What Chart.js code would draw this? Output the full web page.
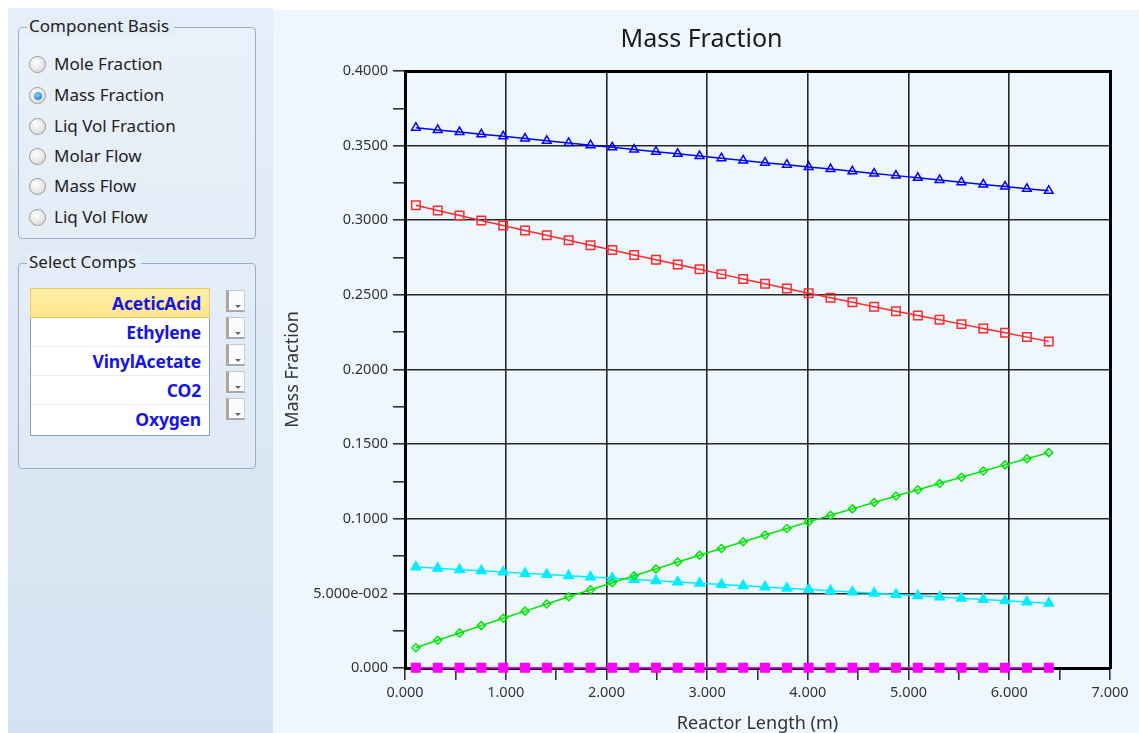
<!DOCTYPE html>
<html>
<head>
<meta charset="utf-8">
<script src="https://cdn.jsdelivr.net/npm/chart.js@4.4.1/dist/chart.umd.min.js"></script>
<style>
  body { margin: 0; width: 1139px; height: 733px; overflow: hidden; background: #fff; font-family: "Noto Sans", sans-serif; position: relative; }
  #side { position: absolute; left: 8px; top: 8px; width: 265px; height: 725px; background: linear-gradient(#e6eff9, #d4e2f1); }
  .group { position: absolute; left: 10px; width: 236px; border: 1px solid #98aec8; border-radius: 4px; background: rgba(255,255,255,0.15); }
  .legend { position: absolute; left: 8px; top: -12px; padding: 0 5px 0 2px; font-size: 17px; line-height: 20px; color: #222; background: #e5eef8; }
  .radio { position: absolute; left: 10px; height: 22px; font-size: 17px; line-height: 22px; color: #222; }
  .radio i { position: absolute; left: 0; top: 3px; width: 15px; height: 15px; border-radius: 50%; border: 1px solid #9a9a9a; background: radial-gradient(circle at 40% 35%, #fff, #d3d3d3); }
  .radio.on i::after { content: ""; position: absolute; left: 3.5px; top: 3.5px; width: 8px; height: 8px; border-radius: 50%; background: radial-gradient(circle at 40% 35%, #7fd0ff, #1069b8); }
  .radio span { position: absolute; left: 25px; white-space: nowrap; }
  #list { position: absolute; left: 11px; top: 24px; width: 178px; height: 146px; border: 1px solid #8c9fb6; background: #fff; }
  .row { height: 28px; border-bottom: 1px solid #ececec; text-align: right; padding-right: 8px; font-weight: bold; font-size: 17.5px; line-height: 28px; color: #1515e8; letter-spacing: -0.2px; }
  .row.sel { background: linear-gradient(#fff0a8, #fde58a); border: 1px solid #e6c76a; margin: -1px -1px 0 -1px; }
  .btn { position: absolute; left: 207px; width: 15px; height: 19px; border-top: 1px solid #c8c8c8; border-right: 1px solid #d0d0d0; border-left: 3px solid #a8a8a8; border-bottom: 2px solid #a8a8a8; background: #fbfbfb; }
  .btn::after { content: ""; position: absolute; right: 3px; bottom: 2px; border-left: 3px solid transparent; border-right: 3px solid transparent; border-top: 3px solid #666; }
  #wrap { position: absolute; left: 273px; top: 10px; width: 866px; height: 723px; background: #eff7fe; }
</style>
</head>
<body>
<div id="side">
  <div class="group" style="top:19px;height:210px;">
    <div class="legend">Component Basis</div>
    <div class="radio" style="top:25px"><i></i><span>Mole Fraction</span></div>
    <div class="radio on" style="top:56px"><i></i><span>Mass Fraction</span></div>
    <div class="radio" style="top:87px"><i></i><span>Liq Vol Fraction</span></div>
    <div class="radio" style="top:117px"><i></i><span>Molar Flow</span></div>
    <div class="radio" style="top:147px"><i></i><span>Mass Flow</span></div>
    <div class="radio" style="top:178px"><i></i><span>Liq Vol Flow</span></div>
  </div>
  <div class="group" style="top:255px;height:204px;">
    <div class="legend">Select Comps</div>
    <div id="list">
      <div class="row sel">AceticAcid</div>
      <div class="row">Ethylene</div>
      <div class="row">VinylAcetate</div>
      <div class="row">CO2</div>
      <div class="row" style="border-bottom:none">Oxygen</div>
    </div>
    <div class="btn" style="top:26px"></div>
    <div class="btn" style="top:53px"></div>
    <div class="btn" style="top:80px"></div>
    <div class="btn" style="top:107px"></div>
    <div class="btn" style="top:134px"></div>
  </div>
</div>
<div id="wrap"><canvas id="chart" width="866" height="723"></canvas></div>
<script>
// reactor positions (m)
const lengths = [0.108, 0.325, 0.542, 0.758, 0.975, 1.192, 1.408, 1.625, 1.842, 2.058,
  2.275, 2.492, 2.708, 2.925, 3.142, 3.358, 3.575, 3.792, 4.008, 4.225,
  4.442, 4.658, 4.875, 5.092, 5.308, 5.525, 5.742, 5.958, 6.175, 6.392];

const ethylene = [0.3620, 0.3605, 0.3591, 0.3576, 0.3562, 0.3547, 0.3532, 0.3518, 0.3503, 0.3489,
  0.3474, 0.3459, 0.3445, 0.3430, 0.3416, 0.3401, 0.3386, 0.3372, 0.3357, 0.3343,
  0.3328, 0.3313, 0.3299, 0.3284, 0.3270, 0.3255, 0.3240, 0.3226, 0.3211, 0.3197];
const aceticAcid = [0.3100, 0.3066, 0.3032, 0.2998, 0.2965, 0.2932, 0.2899, 0.2866, 0.2833, 0.2800,
  0.2767, 0.2735, 0.2703, 0.2671, 0.2639, 0.2607, 0.2575, 0.2543, 0.2511, 0.2481,
  0.2451, 0.2421, 0.2391, 0.2362, 0.2333, 0.2304, 0.2275, 0.2246, 0.2217, 0.2188];
const vinylAcetate = [0.0136, 0.0186, 0.0235, 0.0284, 0.0333, 0.0381, 0.0429, 0.0477, 0.0524, 0.0571,
  0.0618, 0.0664, 0.0710, 0.0756, 0.0801, 0.0846, 0.0891, 0.0935, 0.0979, 0.1023,
  0.1066, 0.1109, 0.1152, 0.1194, 0.1236, 0.1278, 0.1320, 0.1361, 0.1402, 0.1443];
const oxygen = [0.0676, 0.0668, 0.0659, 0.0651, 0.0643, 0.0634, 0.0626, 0.0618, 0.0609, 0.0601,
  0.0593, 0.0584, 0.0576, 0.0568, 0.0559, 0.0551, 0.0543, 0.0534, 0.0526, 0.0518,
  0.0509, 0.0501, 0.0493, 0.0484, 0.0476, 0.0468, 0.0459, 0.0451, 0.0443, 0.0434];
const co2 = [0.0001, 0.0001, 0.0001, 0.0001, 0.0001, 0.0001, 0.0001, 0.0001, 0.0001, 0.0001,
  0.0001, 0.0001, 0.0001, 0.0001, 0.0001, 0.0001, 0.0001, 0.0001, 0.0001, 0.0001,
  0.0001, 0.0001, 0.0001, 0.0001, 0.0001, 0.0001, 0.0001, 0.0001, 0.0001, 0.0001];

const yTickLabels = ["0.000", "5.000e-002", "0.1000", "0.1500", "0.2000", "0.2500", "0.3000", "0.3500", "0.4000"];
const xTickLabels = ["0.000", "1.000", "2.000", "3.000", "4.000", "5.000", "6.000", "7.000"];

function points(series) {
  return lengths.map((x, i) => ({ x, y: series[i] }));
}

function series(label, values, color, style, radius, filled) {
  return {
    label,
    data: points(values),
    borderColor: color,
    backgroundColor: filled ? color : "transparent",
    pointBorderColor: color,
    pointBackgroundColor: filled ? color : "transparent",
    pointStyle: style,
    pointRadius: radius,
    pointBorderWidth: 1.5,
    borderWidth: 1.5,
    tension: 0,
    clip: false,
  };
}

const gridColor = (c) => (c.index % 2 === 0 ? "rgba(15,15,15,0.9)" : "rgba(0,0,0,0)");

// bare axes that only draw the top and right edges of the plot frame
function frameAxis(position, size) {
  const horizontal = position === "top";
  return {
    type: "linear",
    position,
    min: horizontal ? 0 : 0,
    max: horizontal ? 7 : 0.4,
    afterFit: (s) => { if (horizontal) s.height = size; else s.width = size; },
    ticks: { display: false },
    grid: { drawOnChartArea: false, drawTicks: false },
    border: { color: "#000", width: 3 },
  };
}

new Chart(document.getElementById("chart"), {
  type: "line",
  data: {
    datasets: [
      series("Ethylene", ethylene, "#0000ff", "triangle", 5, false),
      series("AceticAcid", aceticAcid, "#ff2a2a", "rect", 6, false),
      series("VinylAcetate", vinylAcetate, "#00e600", "rectRot", 4, false),
      series("Oxygen", oxygen, "#00eeff", "triangle", 5.5, true),
      series("CO2", co2, "#ff00ff", "rect", 6, true),
    ],
  },
  options: {
    responsive: false,
    animation: false,
    layout: { padding: { left: 0, right: 9, top: 0, bottom: 0 } },
    plugins: {
      legend: { display: false },
      tooltip: { enabled: false },
      title: {
        display: true,
        text: "Mass Fraction",
        color: "#1a1a1a",
        font: { family: "Noto Sans", size: 25, weight: "normal" },
        padding: { top: 15, bottom: 16 },
      },
    },
    scales: {
      x: {
        type: "linear",
        min: 0,
        max: 7,
        afterFit: (s) => { s.height = 65; },
        ticks: {
          stepSize: 0.5,
          padding: 4,
          color: "#333",
          font: { family: "Noto Sans", size: 14.5 },
          maxRotation: 0,
          autoSkip: false,
          callback: (v, i) => (i % 2 === 0 ? xTickLabels[i / 2] : ""),
        },
        grid: { color: gridColor, tickColor: "#333", lineWidth: 1.6, tickLength: 12 },
        border: { color: "#000", width: 3 },
        title: {
          display: true,
          text: "Reactor Length (m)",
          color: "#333",
          font: { family: "Noto Sans", size: 18, lineHeight: 1 },
          padding: 0,
        },
      },
      y: {
        min: 0,
        max: 0.4,
        afterFit: (s) => { s.width = 132; },
        ticks: {
          stepSize: 0.025,
          padding: 5,
          color: "#333",
          font: { family: "Noto Sans", size: 14.5 },
          autoSkip: false,
          callback: (v, i) => (i % 2 === 0 ? yTickLabels[i / 2] : ""),
        },
        grid: { color: gridColor, tickColor: "#333", lineWidth: 1.6, tickLength: 12 },
        border: { color: "#000", width: 3 },
        title: {
          display: true,
          text: "Mass Fraction",
          color: "#333",
          font: { family: "Noto Sans", size: 18 },
          padding: { top: 9, bottom: 0 },
        },
      },
      xTop: frameAxis("top", 0),
      yRight: frameAxis("right", 20),
    },
  },
});
</script>
</body>
</html>
